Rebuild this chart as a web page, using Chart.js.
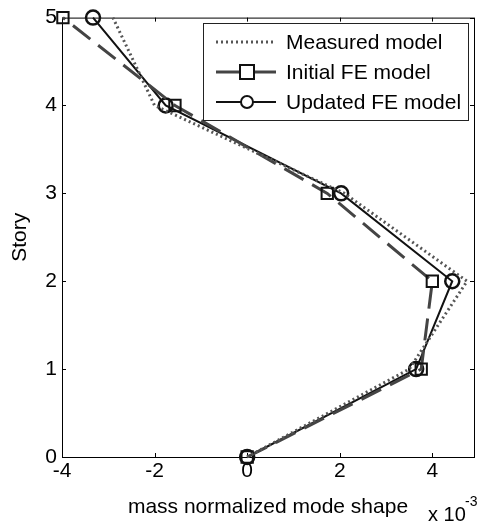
<!DOCTYPE html>
<html lang="en">
<head>
<meta charset="UTF-8">
<title>Mode shape</title>
<script src="https://cdn.jsdelivr.net/npm/chart.js"></script>
<style>
  body { margin: 0; background: #fff; }
  #wrap { width: 484px; height: 524px; }
</style>
</head>
<body>
<div id="wrap"><canvas id="modeChart" width="484" height="524"></canvas></div>
<script>
// story levels and mode shape values (x 10^-3)
const stories = [0, 1, 2, 3, 4, 5];
const measured = [0, 3.5, 4.75, 2.1, -2.0, -2.9];
const initialFE = [0, 3.76, 4.0, 1.73, -1.56, -3.98];
const updatedFE = [0, 3.65, 4.43, 2.03, -1.76, -3.33];
const xTicks = [-4, -2, 0, 2, 4];
const yTicks = [0, 1, 2, 3, 4, 5];

const FONT = 'Arial, "Liberation Sans", sans-serif';

function pts(xs) {
  return xs.map((x, i) => ({ x: x, y: stories[i] }));
}

// box, inward ticks, legend and exponent label, like the matlab figure
const decor = {
  id: 'decor',
  beforeDatasetsDraw(chart) {
    const c = chart.ctx;
    const a = chart.chartArea;
    const sx = chart.scales.x, sy = chart.scales.y;
    c.save();
    c.strokeStyle = '#000';
    c.lineWidth = 1;
    c.strokeRect(a.left + 0.5, a.top + 0.5, a.right - a.left, a.bottom - a.top);
    c.beginPath();
    xTicks.forEach(v => {
      const px = Math.round(sx.getPixelForValue(v)) + 0.5;
      c.moveTo(px, a.bottom); c.lineTo(px, a.bottom - 4);
      c.moveTo(px, a.top); c.lineTo(px, a.top + 4);
    });
    yTicks.forEach(v => {
      const py = Math.round(sy.getPixelForValue(v)) + 0.5;
      c.moveTo(a.left, py); c.lineTo(a.left + 4, py);
      c.moveTo(a.right, py); c.lineTo(a.right - 4, py);
    });
    c.stroke();
    c.restore();
  },
  afterDraw(chart) {
    const c = chart.ctx;
    c.save();
    // legend
    const lx = 203, ly = 23, lw = 265, lh = 97;
    c.fillStyle = '#fff';
    c.fillRect(lx, ly, lw, lh);
    c.strokeStyle = '#222';
    c.lineWidth = 1;
    c.strokeRect(lx + 0.5, ly + 0.5, lw, lh);
    const rows = [42, 72, 102];
    chart.data.datasets.forEach((ds, i) => {
      const y = rows[i];
      c.strokeStyle = ds.borderColor;
      c.lineWidth = ds.borderWidth;
      c.setLineDash(i === 0 ? ds.borderDash : []);
      c.beginPath();
      c.moveTo(216, y); c.lineTo(276, y);
      c.stroke();
      c.setLineDash([]);
      if (ds.pointStyle === 'rect') {
        c.fillStyle = '#fff';
        c.fillRect(240, y - 7, 14, 14);
        c.strokeStyle = '#111';
        c.lineWidth = 2;
        c.strokeRect(240, y - 7, 14, 14);
      } else if (ds.pointStyle === 'circle') {
        c.fillStyle = '#fff';
        c.beginPath();
        c.arc(247, y, 6, 0, Math.PI * 2);
        c.fill();
        c.strokeStyle = '#111';
        c.lineWidth = 2;
        c.stroke();
      }
      c.fillStyle = '#000';
      c.font = '21px ' + FONT;
      c.textBaseline = 'middle';
      c.textAlign = 'left';
      c.fillText(ds.label, 286, y + 1);
    });

    // exponent
    c.fillStyle = '#000';
    c.font = '20px ' + FONT;
    c.textBaseline = 'alphabetic';
    c.fillText('x 10', 428, 521);
    c.font = '14px ' + FONT;
    c.fillText('-3', 465, 506);
    c.restore();
  }
};

const ctx = document.getElementById('modeChart').getContext('2d');
new Chart(ctx, {
  type: 'line',
  data: {
    datasets: [
      {
        label: 'Measured model',
        data: pts(measured),
        borderColor: '#555',
        borderWidth: 3,
        borderDash: [2, 3],
        pointRadius: 0,
        clip: false,
        fill: false
      },
      {
        label: 'Initial FE model',
        data: pts(initialFE),
        borderColor: '#444',
        borderWidth: 3,
        borderDash: [22, 10],
        pointStyle: 'rect',
        pointRadius: 8,
        pointBorderWidth: 2,
        pointBorderColor: '#111',
        pointBackgroundColor: 'rgba(255,255,255,0)',
        clip: false,
        fill: false
      },
      {
        label: 'Updated FE model',
        data: pts(updatedFE),
        borderColor: '#111',
        borderWidth: 2,
        pointStyle: 'circle',
        pointRadius: 7,
        pointBorderWidth: 2.5,
        pointBorderColor: '#111',
        pointBackgroundColor: 'rgba(255,255,255,0)',
        clip: false,
        fill: false
      }
    ]
  },
  options: {
    responsive: false,
    animation: false,
    layout: { padding: { top: 15, right: 9, left: 0, bottom: 0 } },
    plugins: { legend: { display: false }, tooltip: { enabled: false } },
    scales: {
      x: {
        type: 'linear',
        min: -4,
        max: 4.9,
        afterBuildTicks: s => { s.ticks = xTicks.map(v => ({ value: v })); },
        afterFit: s => { s.height = 67; },
        grid: { display: false, drawTicks: false },
        border: { display: false },
        ticks: { color: '#000', font: { family: FONT, size: 21 }, padding: 2 },
        title: { display: true, text: 'mass normalized mode shape', color: '#000', font: { family: FONT, size: 21 }, padding: { top: 2 } }
      },
      y: {
        type: 'linear',
        min: 0,
        max: 5,
        afterBuildTicks: s => { s.ticks = yTicks.map(v => ({ value: v })); },
        afterFit: s => { s.width = 62; },
        grid: { display: false, drawTicks: false },
        border: { display: false },
        ticks: { color: '#000', font: { family: FONT, size: 21 }, padding: 5 },
        title: { display: true, text: 'Story', color: '#000', font: { family: FONT, size: 21 }, padding: { top: 8, bottom: 0 } }
      }
    }
  },
  plugins: [decor]
});
</script>
</body>
</html>
